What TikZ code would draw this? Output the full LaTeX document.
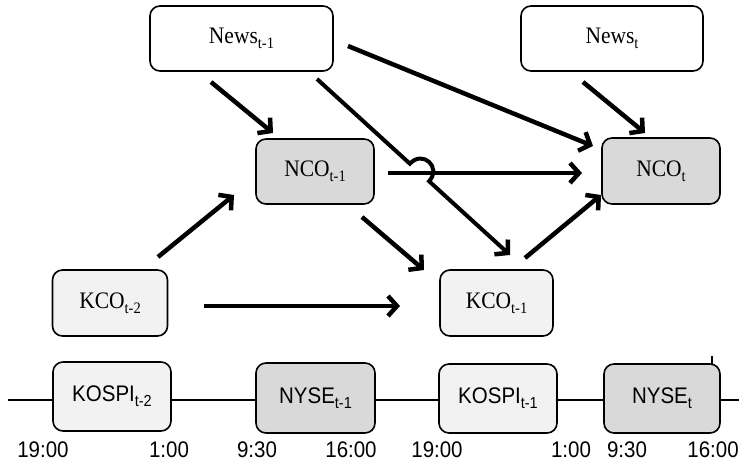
\documentclass[tikz,border=0pt]{standalone}
\usepackage{fontspec}
\setmainfont{Liberation Serif}
\setsansfont{Liberation Sans}
\usetikzlibrary{arrows.meta,calc}
\definecolor{boxgray}{HTML}{D9D9D9}
\definecolor{boxlight}{HTML}{F2F2F2}
\newcommand{\sbs}[1]{\raisebox{-0.45ex}{\fontsize{14.5}{14.5}\selectfont #1}}
\newcommand{\tallx}[1]{\scalebox{1}[1.1]{#1}}
\begin{document}
\begin{tikzpicture}[x=1pt,y=-1pt,
  bx/.style={draw=black,line width=1.6pt,rounded corners=10pt,inner sep=0pt,
    font=\fontsize{21.5}{24}\selectfont},
  bxs/.style={bx,font=\sffamily\fontsize{20.5}{24}\selectfont},
  arr/.style={line width=4.5pt,-{Straight Barb[length=9pt,width=20pt]}},
  tlabel/.style={font=\sffamily\fontsize{20.5}{24}\selectfont,anchor=base,inner sep=0pt}]
\useasboundingbox (0,0) rectangle (739,462);
% timeline
\coordinate (tl0) at (8,400);
\coordinate (tl1) at (739,400);
\draw[line width=2.5pt] (tl0) -- (tl1);
\coordinate (tk0) at (712,356);
\coordinate (tk1) at (712,366);
\draw[line width=2pt] (tk0) -- (tk1);
% nodes
\node[bx,fill=white,minimum width=183pt,minimum height=65pt] (newsA) at (241.5,38.5) {\tallx{News\sbs{t-1}}};
\node[bx,fill=white,minimum width=182pt,minimum height=65pt] (newsB) at (612,38.5) {\tallx{News\sbs{t}}};
\node[bx,fill=boxgray,minimum width=118pt,minimum height=65pt] (ncoA) at (315,171.5) {\tallx{NCO\sbs{t-1}}};
\node[bx,fill=boxgray,minimum width=118pt,minimum height=66pt] (ncoB) at (661,171) {\tallx{NCO\sbs{t}}};
\node[bx,fill=boxlight,minimum width=115pt,minimum height=66pt] (kcoA) at (110,303) {\tallx{KCO\sbs{t-2}}};
\node[bx,fill=boxlight,minimum width=113pt,minimum height=66pt] (kcoB) at (496.5,303) {\tallx{KCO\sbs{t-1}}};
\node[bxs,fill=boxlight,minimum width=118pt,minimum height=69pt] (kospiA) at (112,396.5) {\tallx{KOSPI\sbs{t-2}}};
\node[bxs,fill=boxgray,minimum width=119pt,minimum height=70pt] (nyseA) at (315.5,398) {\tallx{NYSE\sbs{t-1}}};
\node[bxs,fill=boxlight,minimum width=118pt,minimum height=69pt] (kospiB) at (498,398.5) {\tallx{KOSPI\sbs{t-1}}};
\node[bxs,fill=boxgray,minimum width=116pt,minimum height=69pt] (nyseB) at (662,398.5) {\tallx{NYSE\sbs{t}}};
% time labels
\node[tlabel] (t1) at (43,457) {\tallx{19:00}};
\node[tlabel] (t2) at (169,457) {\tallx{1:00}};
\node[tlabel] (t3) at (257,457) {\tallx{9:30}};
\node[tlabel] (t4) at (351,457) {\tallx{16:00}};
\node[tlabel] (t5) at (437,457) {\tallx{19:00}};
\node[tlabel] (t6) at (571,457) {\tallx{1:00}};
\node[tlabel] (t7) at (627,457) {\tallx{9:30}};
\node[tlabel] (t8) at (713,457) {\tallx{16:00}};
% arrow end points
\coordinate (a1s) at (211,82);  \coordinate (a1e) at (273,133);
\coordinate (a2s) at (317,79);  \coordinate (a2e) at (510,255);
\coordinate (a3s) at (348,46);  \coordinate (a3e) at (593,146);
\coordinate (a4s) at (583,82);  \coordinate (a4e) at (645,133);
\coordinate (a5s) at (388,173); \coordinate (a5e) at (582,173);
\coordinate (a6s) at (158,257); \coordinate (a6e) at (234,195);
\coordinate (a7s) at (362,217); \coordinate (a7e) at (424,270);
\coordinate (a8s) at (525,258); \coordinate (a8e) at (601,195);
\coordinate (a9s) at (204,306); \coordinate (a9e) at (400,306);
% arrows
\draw[arr] (a1s) -- (a1e);
\draw[arr] (a3s) -- (a3e);
\draw[arr] (a4s) -- (a4e);
\draw[arr] (a5s) -- (a5e);
\draw[arr] (a6s) -- (a6e);
\draw[arr] (a7s) -- (a7e);
\draw[arr] (a8s) -- (a8e);
\draw[arr] (a9s) -- (a9e);
% arrow with hop
\coordinate (hp) at ($(a2s)!0.531!(a2e)$);
\coordinate (ha) at ($(hp)!13pt!(a2s)$);
\coordinate (hb) at ($(hp)!13pt!(a2e)$);
\coordinate (hac) at ($(ha)!19pt!90:(hp)$);
\coordinate (hbc) at ($(hb)!19pt!-90:(hp)$);
\draw[line width=4pt,-{Straight Barb[length=9pt,width=20pt,line width=4.5pt]}]
  (a2s) -- (ha) .. controls (hac) and (hbc) .. (hb) -- (a2e);
\end{tikzpicture}
\end{document}
